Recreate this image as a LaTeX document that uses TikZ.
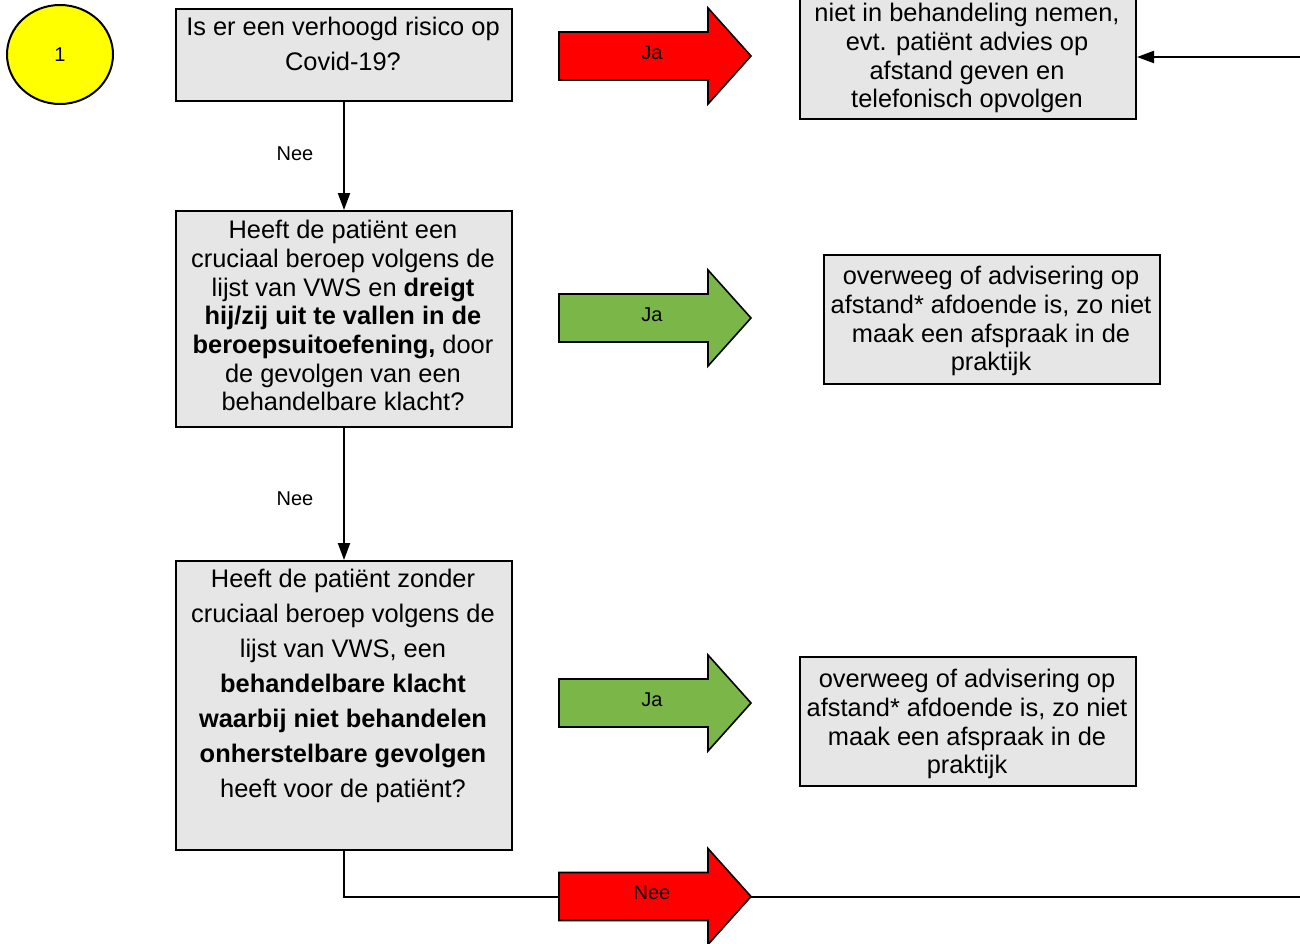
\documentclass[tikz,border=0pt]{standalone}
\usepackage{fontspec}
\setmainfont{Liberation Sans}
\usetikzlibrary{arrows.meta,shapes.geometric}
\definecolor{boxgray}{HTML}{E6E6E6}
\definecolor{arrred}{HTML}{FF0000}
\definecolor{arrgreen}{HTML}{7AB648}
\definecolor{circyellow}{HTML}{FFFF00}
\begin{document}
\begin{tikzpicture}[x=1pt,y=-1pt,
  box/.style={draw=black, line width=2pt, fill=boxgray, inner sep=0pt, anchor=north west},
  txtA/.style={inner sep=0pt, anchor=north, align=center, font=\fontsize{25.4}{35}\selectfont},
  txtB/.style={inner sep=0pt, anchor=north, align=center, font=\fontsize{25.4}{28.7}\selectfont},
  lbl/.style={inner sep=0pt, font=\fontsize{20}{24}\selectfont},
  conn/.style={draw=black, line width=2pt},
  connarrow/.style={conn, -{Triangle[width=12pt,length=17pt]}},
  blockarrow/.style={draw=black, line width=1.6pt, line join=miter}
]
\useasboundingbox (0,0) rectangle (1300,943);
\clip (0,0) rectangle (1300,943);

% start circle
\node[ellipse, draw=black, line width=2pt, fill=circyellow, minimum width=106pt, minimum height=99pt, inner sep=0pt, font=\fontsize{20}{24}\selectfont] (c1) at (60,54.5) {1};

% question boxes
\node[box, minimum width=336pt, minimum height=92pt] (b1) at (175,8) {};
\node[txtA] (t1) at (343,17) {\rule{0pt}{18pt}Is er een verhoogd risico op\\Covid-19?};

\node[box, minimum width=336pt, minimum height=216pt] (b2) at (175,210) {};
\node[txtB] (t2) at (343,220) {\rule{0pt}{18pt}Heeft de patiënt een\\cruciaal beroep volgens de\\lijst van VWS en \textbf{dreigt}\\\textbf{hij/zij uit te vallen in de}\\\textbf{beroepsuitoefening,} door\\de gevolgen van een\\behandelbare klacht?};

\node[box, minimum width=336pt, minimum height=289pt] (b3) at (175,560) {};
\node[txtA] (t3) at (343,569) {\rule{0pt}{18pt}Heeft de patiënt zonder\\cruciaal beroep volgens de\\lijst van VWS, een\\\textbf{behandelbare klacht}\\\textbf{waarbij niet behandelen}\\\textbf{onherstelbare gevolgen}\\heeft voor de patiënt?};

% result boxes
\node[box, minimum width=336pt, minimum height=148pt] (r1) at (799,-30) {};
\node[txtB] (u1) at (967,3) {\rule{0pt}{18pt}niet in behandeling nemen,\\evt. patiënt advies op\\afstand geven en\\telefonisch opvolgen};

\node[box, minimum width=336pt, minimum height=129pt] (r2) at (823,254) {};
\node[txtB] (u2) at (991,266) {\rule{0pt}{18pt}overweeg of advisering op\\afstand* afdoende is, zo niet\\maak een afspraak in de\\praktijk};

\node[box, minimum width=336pt, minimum height=129pt] (r3) at (799,656) {};
\node[txtB] (u3) at (967,669) {\rule{0pt}{18pt}overweeg of advisering op\\afstand* afdoende is, zo niet\\maak een afspraak in de\\praktijk};

% block arrows
\draw[blockarrow, fill=arrred] (559,56) ++(0,-24) -- ++(149,0) -- ++(0,-24) -- ++(43,48) -- ++(-43,48) -- ++(0,-24) -- ++(-149,0) -- cycle;
\node[lbl] (a1) at (652,53) {Ja};

\draw[blockarrow, fill=arrgreen] (559,318) ++(0,-24) -- ++(149,0) -- ++(0,-24) -- ++(43,48) -- ++(-43,48) -- ++(0,-24) -- ++(-149,0) -- cycle;
\node[lbl] (a2) at (652,315) {Ja};

\draw[blockarrow, fill=arrgreen] (559,703) ++(0,-24) -- ++(149,0) -- ++(0,-24) -- ++(43,48) -- ++(-43,48) -- ++(0,-24) -- ++(-149,0) -- cycle;
\node[lbl] (a3) at (652,700) {Ja};

\coordinate (tail4) at (559,896.5);
\coordinate (tip4) at (751,896.5);
\coordinate (end4) at (1300,896.5);
\draw[blockarrow, fill=arrred] (tail4) ++(0,-24) -- ++(149,0) -- ++(0,-24) -- ++(43,48) -- ++(-43,48) -- ++(0,-24) -- ++(-149,0) -- cycle;
\node[lbl] (a4) at (652,893) {Nee};

% connectors
\draw[connarrow] (b1.south) -- (b2.north);
\node[lbl] (n1) at (295,154) {Nee};
\draw[connarrow] (b2.south) -- (b3.north);
\node[lbl] (n2) at (295,499) {Nee};
\draw[conn] (b3.south) |- (tail4);
\draw[conn] (tip4) -- (end4);

\coordinate (rin) at (1300,57);
\draw[connarrow] (rin) -- (rin -| r1.east);
\end{tikzpicture}
\end{document}
